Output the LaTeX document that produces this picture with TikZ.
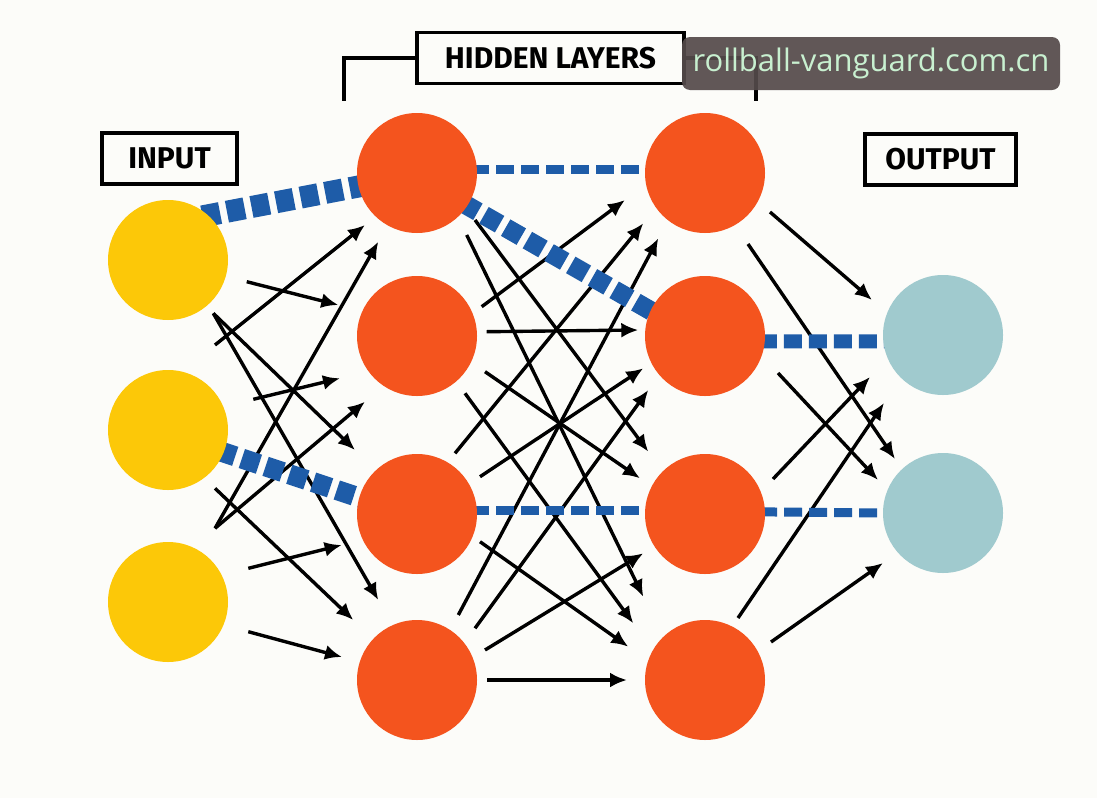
\documentclass[tikz,border=0pt]{standalone}
\usepackage{fontspec}
\setmainfont{Fira Sans}
\newfontfamily\wmfont{Open Sans}
\usetikzlibrary{arrows.meta}
\definecolor{bg}{RGB}{252,252,249}
\definecolor{yel}{RGB}{252,200,8}
\definecolor{org}{RGB}{244,84,30}
\definecolor{lblue}{RGB}{160,202,206}
\definecolor{dblue}{RGB}{30,92,168}
\definecolor{wmbg}{RGB}{84,74,74}
\definecolor{wmtx}{RGB}{200,240,208}
\pgfdeclarelayer{bgl}
\pgfdeclarelayer{edges}
\pgfsetlayers{bgl,edges,main}
\begin{document}
\begin{tikzpicture}[x=1pt,y=-1pt,
  neuron/.style={circle,minimum size=120pt,inner sep=0pt},
  inp/.style={neuron,fill=yel},
  hid/.style={neuron,fill=org},
  outn/.style={neuron,fill=lblue},
  arr/.style={line width=3.4pt,-{Latex[length=17pt,width=15pt]}},
  wdash/.style={dblue,line width=#1,dash pattern=on 18pt off 7pt,shorten <=-6pt,shorten >=-6pt},
  lbl/.style={draw,line width=3.2pt,font=\bfseries\fontsize{30}{31}\selectfont,inner sep=0pt,minimum height=51pt},
  bracket/.style={line width=3.2pt},
]
\useasboundingbox (0,0) rectangle (1097,798);
% neurons
\node[inp] (i1) at (168,260) {};
\node[inp] (i2) at (168,430) {};
\node[inp] (i3) at (168,602) {};
\node[hid] (h11) at (417,173) {};
\node[hid] (h12) at (417,336) {};
\node[hid] (h13) at (417,514) {};
\node[hid] (h14) at (417,680) {};
\node[hid] (h21) at (705,173) {};
\node[hid] (h22) at (705,336) {};
\node[hid] (h23) at (705,514) {};
\node[hid] (h24) at (705,680) {};
\node[outn] (o1) at (943,335) {};
\node[outn] (o2) at (943,513) {};
% labels
\node[lbl,minimum width=135pt] (inlbl) at (169.5,158.5) {INPUT};
\node[lbl,minimum width=151pt] (outlbl) at (940.5,159.5) {OUTPUT};
\node[lbl,minimum width=267pt] (hl) at (550.5,58) {HIDDEN LAYERS};
\draw[bracket] (hl.west) -| (344,101);
\draw[bracket] (hl.east) -| (756,101);
% watermark
\node[fill=wmbg,fill opacity=0.92,text opacity=1,rounded corners=8pt,minimum width=378pt,minimum height=53pt,inner sep=0pt,text=wmtx,font=\wmfont\fontsize{31}{32}\selectfont] (wm) at (871,63.5) {rollball-vanguard.com.cn};

\begin{pgfonlayer}{bgl}
\fill[bg] (0,0) rectangle (1097,798);
\end{pgfonlayer}

\begin{pgfonlayer}{edges}
% input -> hidden 1
\draw[arr] (246.7,281.7) -- (338.3,305);
\draw[arr] (215,345) -- (365,225);
\draw[arr] (215,528.3) -- (378.3,241.7);
\draw[arr] (215,528.3) -- (365,401.7);
\draw[arr] (253.3,399.3) -- (340,378.3);
\draw[arr] (213.3,313.3) -- (355,450);
\draw[arr] (213.3,313.3) -- (378.3,600);
\draw[arr] (215,488.3) -- (353.3,620);
\draw[arr] (248.3,568.3) -- (341.7,545);
\draw[arr] (248.3,631.7) -- (342,657);
% hidden 1 -> hidden 2
\draw[arr] (481.7,306.7) -- (625,200);
\draw[arr] (486.7,331.7) -- (638.3,330);
\draw[arr] (475,220) -- (648.3,451.7);
\draw[arr] (466.7,235) -- (643.3,596.7);
\draw[arr] (485,371.7) -- (640,478.3);
\draw[arr] (465,393.3) -- (633.3,623.3);
\draw[arr] (455,453.3) -- (643.3,223.3);
\draw[arr] (480,476.7) -- (643.3,368.3);
\draw[arr] (480,541.7) -- (628.3,646.7);
\draw[arr] (458.3,615) -- (658.3,238.3);
\draw[arr] (475,628.3) -- (648.3,390);
\draw[arr] (485,650) -- (643.3,553.3);
\draw[arr] (487,680) -- (627,680);
% hidden 2 -> output
\draw[arr] (770,212) -- (872,300);
\draw[arr] (748,244) -- (895,459);
\draw[arr] (778,373) -- (878,480);
\draw[arr] (773,479) -- (870,377);
\draw[arr] (738,618) -- (884,403);
\draw[arr] (771,642) -- (883,563);
% strong (dashed) connections
\draw[wdash=22pt] (i1.48) -- (h11.193);
\draw[wdash=9pt] (h11.3) -- (h21.177);
\draw[wdash=19pt] (h11.-33) -- (h22.155);
\draw[wdash=20pt] (i2.-22) -- (h13.164);
\draw[wdash=9pt] (h13.3) -- (h23.177);
\draw[wdash=14pt] (h22.-5) -- (o1.186);
\draw[wdash=9pt] (h23.2) -- (o2.180);
\end{pgfonlayer}
\end{tikzpicture}
\end{document}
